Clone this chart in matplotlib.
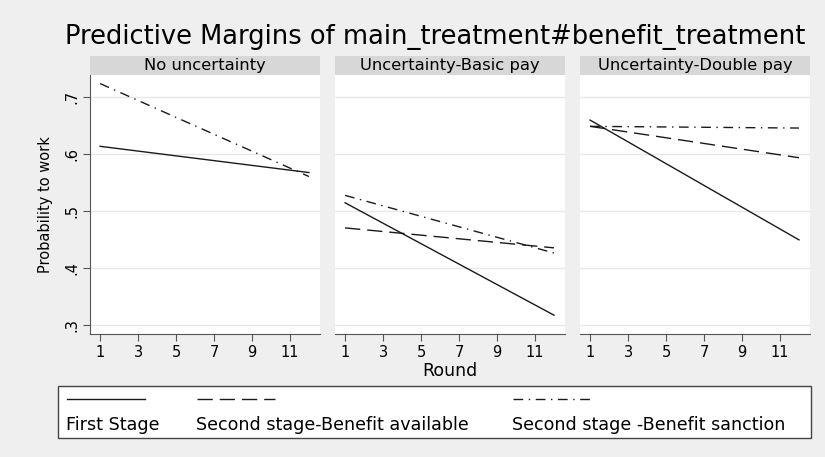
import matplotlib.pyplot as plt
from matplotlib.patches import Rectangle

plt.rcParams["font.family"] = ["DejaVu Sans"]

# datos (margenes predichos, ronda 1 y 12)
rounds = [1, 12]
panels = ["No uncertainty", "Uncertainty-Basic pay", "Uncertainty-Double pay"]
first_stage = [[0.613, 0.567], [0.514, 0.317], [0.659, 0.449]]
benefit_available = [None, [0.470, 0.435], [0.648, 0.593]]
benefit_sanction = [[0.723, 0.560], [0.527, 0.426], [0.648, 0.645]]
legend_labels = ["First Stage", "Second stage-Benefit available",
                 "Second stage -Benefit sanction"]
yticks = [0.3, 0.4, 0.5, 0.6, 0.7]
ytick_labels = [".3", ".4", ".5", ".6", ".7"]
xticks = [1, 3, 5, 7, 9, 11]

BG = "#efefef"
W, H = 825, 457
styles = [
    dict(linestyle="-"),
    dict(linestyle=(0, (11, 5))),
    dict(linestyle=(0, (7, 4, 1, 4))),
]

fig = plt.figure(figsize=(W / 100, H / 100), dpi=100, facecolor=BG)


def px_axes(x0, y0, x1, y1):
    return fig.add_axes([x0 / W, 1 - y1 / H, (x1 - x0) / W, (y1 - y0) / H])


lefts = [90, 335, 580]
pw = 230
for i, name in enumerate(panels):
    x0 = lefts[i]
    ax = px_axes(x0, 75, x0 + pw, 334)
    ax.set_facecolor("white")
    series = [first_stage[i], benefit_available[i], benefit_sanction[i]]
    for vals, st in zip(series, styles):
        if vals is None:
            continue
        ax.plot(rounds, vals, color="#1a1a1a", linewidth=1.0, **st)
    ax.set_xlim(0.47, 12.58)
    ax.set_ylim(0.284, 0.738)
    ax.set_yticks(yticks)
    ax.set_xticks(xticks)
    ax.set_xticklabels([str(t) for t in xticks], fontsize=10.5)
    ax.grid(axis="y", color="#e8e8e8", linewidth=1.0)
    ax.set_axisbelow(True)
    for s in ["top", "right"]:
        ax.spines[s].set_visible(False)
    ax.spines["bottom"].set_color("#555555")
    ax.spines["left"].set_color("#555555")
    ax.tick_params(axis="x", length=5, color="#555555", pad=3)
    if i == 0:
        ax.set_yticklabels(ytick_labels, fontsize=10.5, rotation=90, va="center")
        ax.tick_params(axis="y", length=5, color="#555555", pad=3)
        ax.set_ylabel("Probability to work", fontsize=10.5, labelpad=8)
    else:
        ax.spines["left"].set_visible(False)
        ax.tick_params(axis="y", length=0, labelleft=False)
    if i == 1:
        ax.set_xlabel("Round", fontsize=12.5, labelpad=1)

    hd = px_axes(x0, 56, x0 + pw, 75)
    hd.set_facecolor("#d7d7d7")
    hd.set_xticks([])
    hd.set_yticks([])
    for s in hd.spines.values():
        s.set_visible(False)
    hd.text(0.5, 0.48, name, ha="center", va="center", fontsize=11.8,
            transform=hd.transAxes)

fig.text(435 / W, 1 - 37 / H, "Predictive Margins of main_treatment#benefit_treatment",
         ha="center", va="center", fontsize=18.5)

# leyenda al estilo Stata: clave arriba, texto abajo
lg = px_axes(58, 386, 811, 438)
lg.set_xlim(58, 811)
lg.set_ylim(438, 386)
lg.axis("off")
lg.add_patch(Rectangle((58, 386), 753, 52, fill=True, facecolor="white",
                       edgecolor="#444444", linewidth=1.0, clip_on=False))
key_x = [67, 197, 513]
for kx, lab, st in zip(key_x, legend_labels, styles):
    lg.plot([kx, kx + 78], [399, 399], color="#1a1a1a", linewidth=1.0, **st)
    lg.text(kx - 1, 425, lab, ha="left", va="center", fontsize=12.6)

fig.savefig("out.png", dpi=100, facecolor=BG)
